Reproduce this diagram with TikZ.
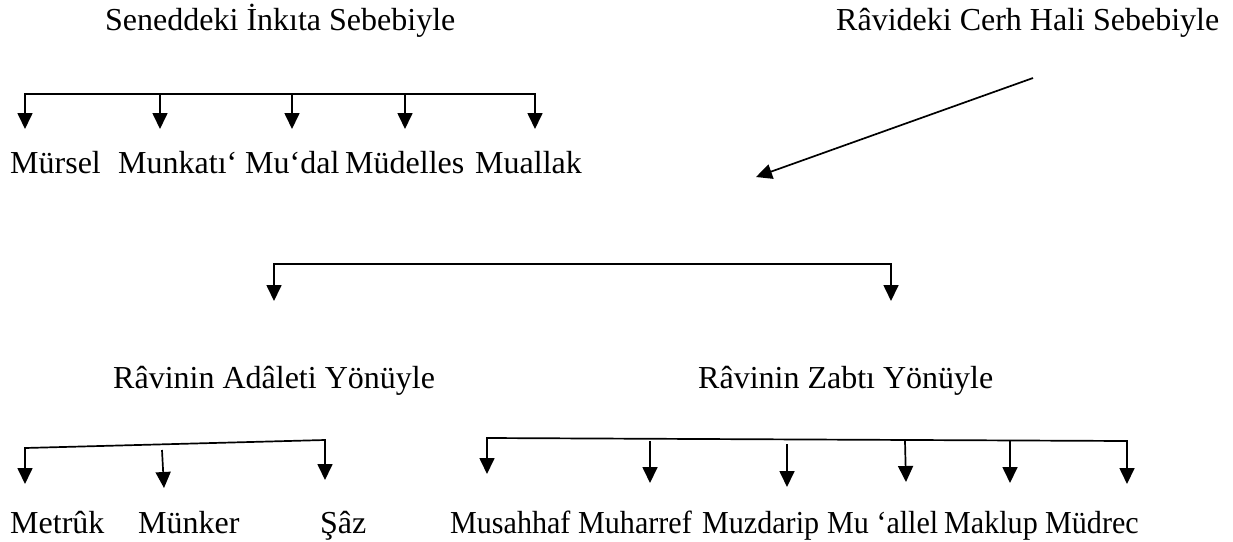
\documentclass[tikz,border=0pt]{standalone}
\usepackage{fontspec}
\usepackage{graphicx}
\setmainfont{Liberation Serif}
\usetikzlibrary{arrows.meta}
\newcommand{\narrowtxt}[1]{\scalebox{0.94}[1]{#1}}
\tikzset{
  lbl/.style={anchor=base west, inner sep=0pt, font=\fontsize{32}{38}\selectfont},
  conn/.style={line width=1.7pt, line cap=rect},
  arr/.style={line width=1.7pt, -{Triangle[width=15pt,length=16pt]}},
}
\begin{document}
\begin{tikzpicture}[x=1pt,y=-1pt]
\useasboundingbox (0,0) rectangle (1233,541);
% titles
\node[lbl] (t1) at (105,30) {Seneddeki İnkıta Sebebiyle};
\node[lbl] (t2) at (836,30) {Râvideki Cerh Hali Sebebiyle};
% top bracket
\coordinate (a1) at (25,94);
\coordinate (a2) at (160,94);
\coordinate (a3) at (292,94);
\coordinate (a4) at (405,94);
\coordinate (a5) at (535,94);
\coordinate (b1) at (25,129);
\coordinate (b2) at (160,129);
\coordinate (b3) at (292,129);
\coordinate (b4) at (405,129);
\coordinate (b5) at (535,129);
\draw[conn] (a1) -- (a5);
\foreach \i in {1,...,5} \draw[arr] (a\i) -- (b\i);
\node[lbl] (m1) at (10,173) {Mürsel};
\node[lbl] (m2) at (118,173) {Munkatı‘};
\node[lbl] (m3) at (245,173) {Mu‘dal};
\node[lbl] (m4) at (345,173) {Müdelles};
\node[lbl] (m5) at (475,173) {Muallak};
% diagonal arrow
\coordinate (d1) at (1033,78);
\coordinate (d2) at (756,177);
\draw[arr] (d1) -- (d2);
% middle bracket
\coordinate (c1) at (274,264);
\coordinate (c2) at (891,264);
\coordinate (e1) at (274,301);
\coordinate (e2) at (891,301);
\draw[conn] (c1) -- (c2);
\draw[arr] (c1) -- (e1);
\draw[arr] (c2) -- (e2);
\node[lbl] (r1) at (113,388) {Râvinin Adâleti Yönüyle};
\node[lbl] (r2) at (698,388) {Râvinin Zabtı Yönüyle};
% bottom left
\coordinate (f1) at (25,448);
\coordinate (f3) at (325,440);
\coordinate (f2s) at (162,450);
\coordinate (g1) at (25,484);
\coordinate (g2) at (164,488);
\coordinate (g3) at (325,480);
\draw[conn] (f1) -- (f3);
\draw[arr] (f1) -- (g1);
\draw[arr] (f2s) -- (g2);
\draw[arr] (f3) -- (g3);
\node[lbl] (n1) at (10,533) {Metrûk};
\node[lbl] (n2) at (138,533) {Münker};
\node[lbl] (n3) at (320,533) {Şâz};
% bottom right
\coordinate (h1) at (487,438);
\coordinate (h6) at (1127,441);
\coordinate (h2) at (650,441);
\coordinate (h3) at (787,444);
\coordinate (h4) at (905,441);
\coordinate (h5) at (1010,441);
\coordinate (k1) at (487,474);
\coordinate (k2) at (650,483);
\coordinate (k3) at (787,487);
\coordinate (k4) at (906,482);
\coordinate (k5) at (1010,483);
\coordinate (k6) at (1127,484);
\draw[conn] (h1) -- (h6);
\foreach \i in {1,...,6} \draw[arr] (h\i) -- (k\i);
\node[lbl] (p1) at (450,533) {\narrowtxt{Musahhaf}};
\node[lbl] (p2) at (578,533) {\narrowtxt{Muharref}};
\node[lbl] (p3) at (702,533) {\narrowtxt{Muzdarip}};
\node[lbl] (p4) at (827,533) {\narrowtxt{Mu ‘allel}};
\node[lbl] (p5) at (944,533) {\narrowtxt{Maklup}};
\node[lbl] (p6) at (1045,533) {\narrowtxt{Müdrec}};
\end{tikzpicture}
\end{document}
